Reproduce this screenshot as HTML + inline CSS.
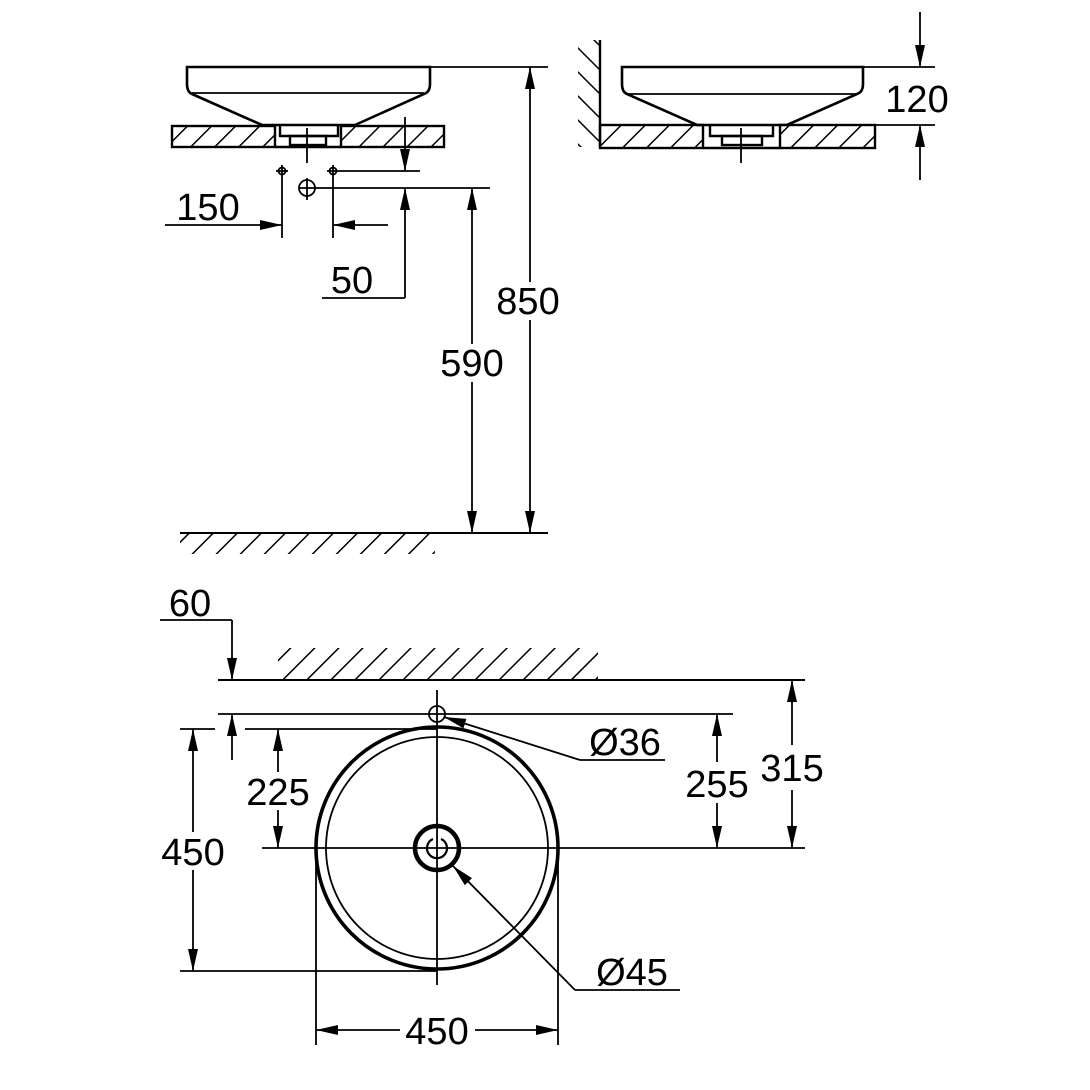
<!DOCTYPE html>
<html><head><style>
html,body{margin:0;padding:0;background:#fff;}
svg{display:block;}
text{font-family:"Liberation Sans",sans-serif;font-size:38px;fill:#000;}
</style></head><body>
<svg width="1090" height="1090" viewBox="0 0 1090 1090" xmlns="http://www.w3.org/2000/svg">
<defs>
<pattern id="h" width="17" height="17" patternUnits="userSpaceOnUse" patternTransform="rotate(45)">
<line x1="0" y1="0" x2="0" y2="17" stroke="#000" stroke-width="3"/>
</pattern>
<pattern id="hw" width="17" height="17" patternUnits="userSpaceOnUse" patternTransform="rotate(-45)">
<line x1="0" y1="0" x2="0" y2="17" stroke="#000" stroke-width="3"/>
</pattern>
<marker id="a" viewBox="0 0 22 10" refX="22" refY="5" markerWidth="22" markerHeight="10" markerUnits="userSpaceOnUse" orient="auto">
<path d="M0,0 L22,5 L0,10 Z" fill="#000"/>
</marker>
</defs>
<g fill="none" stroke="#000" stroke-width="1.8">
<!-- LEFT SIDE VIEW -->
<path d="M187,67 H430 V84 Q430,92 424,94 L355,125 H262 L192,94 Q187,92 187,84 Z" stroke-width="2.6"/>
<line x1="192" y1="93" x2="424" y2="93"/>
<rect x="172" y="126" width="103" height="21" fill="url(#h)" stroke-width="2.4"/>
<rect x="341" y="126" width="103" height="21" fill="url(#h)" stroke-width="2.4"/>
<line x1="275" y1="147" x2="341" y2="147" stroke-width="2.4"/>
<path d="M280,126 V136 H338 V126" stroke-width="2.4"/>
<rect x="290" y="136" width="36" height="9" stroke-width="2.4"/>
<line x1="307" y1="128" x2="307" y2="163"/>
<circle cx="282" cy="171" r="3.5"/><line x1="276" y1="171" x2="288" y2="171"/>
<circle cx="333" cy="171" r="3.5"/><line x1="327" y1="171" x2="420" y2="171"/>
<circle cx="307" cy="188" r="8"/><line x1="300" y1="188" x2="490" y2="188"/><line x1="307" y1="178" x2="307" y2="200"/>
<line x1="282" y1="165" x2="282" y2="238"/>
<line x1="333" y1="165" x2="333" y2="238"/>
<line x1="165" y1="225" x2="282" y2="225" marker-end="url(#a)"/>
<line x1="388" y1="225" x2="333" y2="225" marker-end="url(#a)"/>
<line x1="405" y1="117" x2="405" y2="171" marker-end="url(#a)"/>
<line x1="405" y1="298" x2="405" y2="188" marker-end="url(#a)"/>
<line x1="322" y1="298" x2="405" y2="298"/>
<line x1="430" y1="67" x2="548" y2="67"/>
<line x1="180" y1="533" x2="548" y2="533" stroke-width="2"/>
<rect x="180" y="534" width="255" height="20" fill="url(#h)" stroke="none"/>
<line x1="530" y1="282" x2="530" y2="67" marker-end="url(#a)"/>
<line x1="530" y1="320" x2="530" y2="533" marker-end="url(#a)"/>
<line x1="472" y1="344" x2="472" y2="188" marker-end="url(#a)"/>
<line x1="472" y1="382" x2="472" y2="533" marker-end="url(#a)"/>
<!-- RIGHT SIDE VIEW -->
<line x1="600" y1="40" x2="600" y2="147" stroke-width="2.4"/>
<rect x="578" y="40" width="21" height="107" fill="url(#hw)" stroke="none"/>
<path d="M622,67 H863 V84 Q863,92 857,94 L787,125 H697 L627,94 Q622,92 622,84 Z" stroke-width="2.6"/>
<line x1="627" y1="94" x2="857" y2="94"/>
<rect x="600" y="125" width="103" height="23" fill="url(#h)" stroke-width="2.4"/>
<rect x="780" y="125" width="95" height="23" fill="url(#h)" stroke-width="2.4"/>
<line x1="703" y1="148" x2="780" y2="148" stroke-width="2.4"/>
<path d="M710,125 V136 H773 V125" stroke-width="2.4"/>
<rect x="722" y="136" width="40" height="9" stroke-width="2.4"/>
<line x1="741" y1="128" x2="741" y2="163"/>
<line x1="863" y1="67" x2="935" y2="67"/>
<line x1="875" y1="125" x2="935" y2="125"/>
<line x1="920" y1="12" x2="920" y2="67" marker-end="url(#a)"/>
<line x1="920" y1="180" x2="920" y2="125" marker-end="url(#a)"/>
<!-- PLAN VIEW -->
<rect x="278" y="648" width="320" height="31" fill="url(#h)" stroke="none"/>
<line x1="218" y1="680" x2="805" y2="680" stroke-width="2"/>
<line x1="218" y1="714" x2="733" y2="714"/>
<line x1="180" y1="729" x2="215" y2="729"/>
<line x1="245" y1="729" x2="437" y2="729"/>
<line x1="180" y1="971" x2="437" y2="971"/>
<circle cx="437" cy="848" r="121" stroke-width="3.6"/>
<circle cx="437" cy="848" r="111"/>
<line x1="262" y1="848" x2="805" y2="848"/>
<line x1="437" y1="690" x2="437" y2="985"/>
<circle cx="437" cy="714" r="8"/>
<circle cx="437" cy="848" r="22" stroke-width="4.5"/>
<path d="M433,839 A10,10 0 1,0 441,839" stroke-width="2.2"/>
<line x1="232" y1="620" x2="232" y2="680" marker-end="url(#a)"/>
<line x1="232" y1="760" x2="232" y2="714" marker-end="url(#a)"/>
<line x1="160" y1="620" x2="232" y2="620"/>
<line x1="193" y1="832" x2="193" y2="729" marker-end="url(#a)"/>
<line x1="193" y1="870" x2="193" y2="971" marker-end="url(#a)"/>
<line x1="278" y1="772" x2="278" y2="729" marker-end="url(#a)"/>
<line x1="278" y1="810" x2="278" y2="848" marker-end="url(#a)"/>
<line x1="717" y1="762" x2="717" y2="714" marker-end="url(#a)"/>
<line x1="717" y1="803" x2="717" y2="848" marker-end="url(#a)"/>
<line x1="792" y1="745" x2="792" y2="680" marker-end="url(#a)"/>
<line x1="792" y1="790" x2="792" y2="848" marker-end="url(#a)"/>
<line x1="665" y1="760" x2="580" y2="760"/>
<line x1="580" y1="760" x2="444" y2="717" marker-end="url(#a)"/>
<line x1="680" y1="990" x2="575" y2="990"/>
<line x1="575" y1="990" x2="453" y2="866" marker-end="url(#a)"/>
<line x1="316" y1="848" x2="316" y2="1045"/>
<line x1="558" y1="848" x2="558" y2="1045"/>
<line x1="400" y1="1030" x2="316" y2="1030" marker-end="url(#a)"/>
<line x1="475" y1="1030" x2="558" y2="1030" marker-end="url(#a)"/>
</g>
<text x="208" y="220" text-anchor="middle">150</text>
<text x="352" y="293" text-anchor="middle">50</text>
<text x="528" y="314" text-anchor="middle">850</text>
<text x="472" y="376" text-anchor="middle">590</text>
<text x="917" y="112" text-anchor="middle">120</text>
<text x="190" y="616" text-anchor="middle">60</text>
<text x="278" y="805" text-anchor="middle">225</text>
<text x="193" y="865" text-anchor="middle">450</text>
<text x="717" y="797" text-anchor="middle">255</text>
<text x="792" y="781" text-anchor="middle">315</text>
<text x="625" y="755" text-anchor="middle">Ø36</text>
<text x="632" y="985" text-anchor="middle">Ø45</text>
<text x="437" y="1044" text-anchor="middle">450</text>
</svg>
</body></html>
